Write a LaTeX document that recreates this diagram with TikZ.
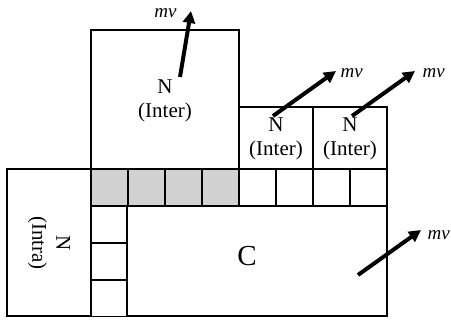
\documentclass[tikz,border=0pt]{standalone}
\usepackage{fontspec}
\setmainfont{Liberation Serif}
\usetikzlibrary{arrows.meta}
\begin{document}
\begin{tikzpicture}[x=1pt,y=-1pt,line width=1.1pt,
	momento/.style={-{Triangle[length=12pt,width=12pt]},line width=4pt},
	etiq/.style={font=\fontsize{21}{24}\selectfont,align=center},
	mvtext/.style={font=\fontsize{19}{20}\selectfont\itshape,inner sep=0pt}]
	\useasboundingbox (0,0) rectangle (451,320);
	
	% Celdas sombreadas
	\fill[gray!35] (91,169) rectangle (239,206);
	
	% Cajas
	\draw (7,169) rectangle (91,316);
	\draw (91,30) rectangle (239,169);
	\draw (239,107) rectangle (313,169);
	\draw (313,107) rectangle (387,169);
	\draw (127,206) rectangle (387,316);
	
	% Fila de celdas
	\foreach \x in {91,128,165,202,239,276,313,350}
		\draw (\x,169) rectangle ++(37,37);
	
	% Columna de celdas
	\foreach \y in {206,243,280}
		\draw (91,\y) rectangle ++(36,36.7);
	
	% Etiquetas
	\node[etiq] (ngrande) at (165,101) {N\\(Inter)};
	\node[etiq] (nchicoa) at (276,139) {N\\(Inter)};
	\node[etiq] (nchicob) at (350,139) {N\\(Inter)};
	\node[etiq,rotate=-90] (nintra) at (49,243) {N\\(Intra)};
	\node[font=\fontsize{29}{30}\selectfont] (carbono) at (247,256) {C};
	
	% Flechas
	\coordinate (ia) at (180,77);
	\coordinate (fa) at (191,11);
	\coordinate (ib) at (273,116);
	\coordinate (fb) at (336,71);
	\coordinate (ic) at (352,116);
	\coordinate (fc) at (415,71);
	\coordinate (id) at (358,275);
	\coordinate (fd) at (421,230);
	\draw[momento] (ia) -- (fa);
	\draw[momento] (ib) -- (fb);
	\draw[momento] (ic) -- (fc);
	\draw[momento] (id) -- (fd);
	
	% Momentos
	\node[mvtext,anchor=east] (mva) at (177,13) {mv};
	\node[mvtext,anchor=west] (mvb) at (340,73) {mv};
	\node[mvtext,anchor=west] (mvc) at (422,73) {mv};
	\node[mvtext,anchor=west] (mvd) at (427,235) {mv};
	
\end{tikzpicture}
\end{document}
